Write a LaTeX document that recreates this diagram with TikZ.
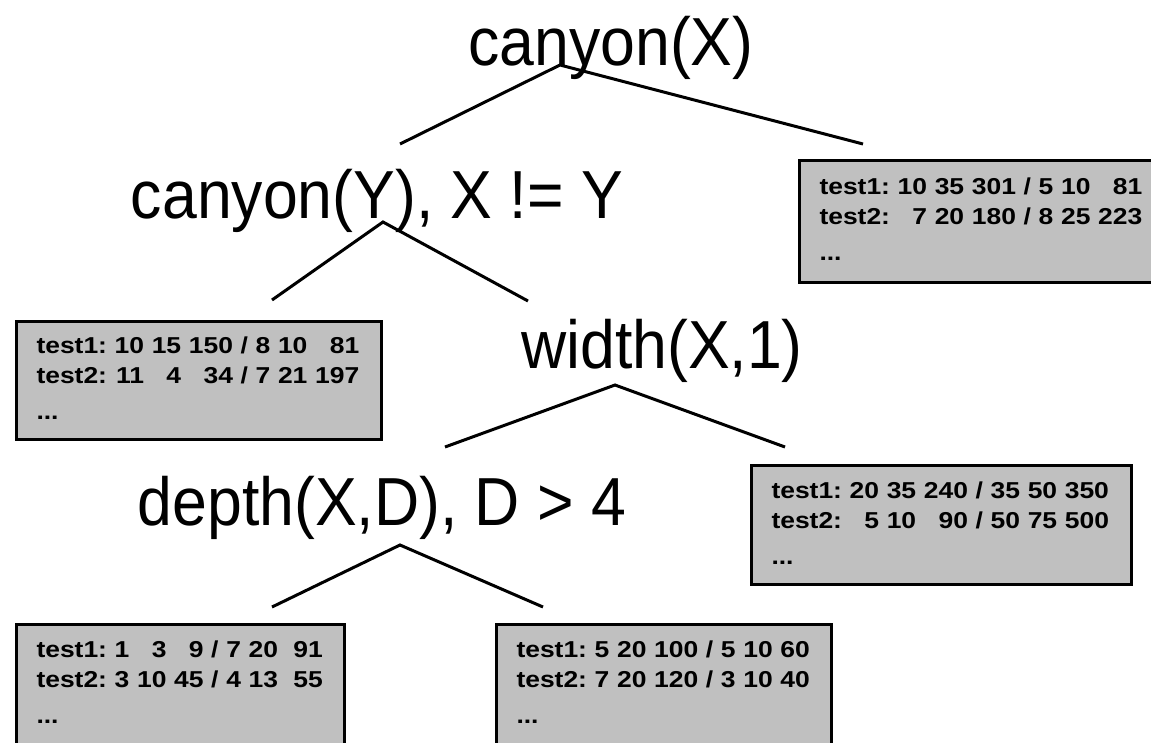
\documentclass[tikz,border=0pt]{standalone}
\usepackage{fontspec}
\setmainfont{Liberation Sans}
\newfontfamily\testfont[FakeStretch=0.92]{Liberation Sans}
\newfontfamily\leaffont[FakeStretch=1.15]{Liberation Sans}
\setlength{\parindent}{0pt}

\definecolor{leafgray}{HTML}{C0C0C0}

\tikzstyle{test}   = [anchor=base,inner sep=0pt,font=\testfont\fontsize{68}{80}\selectfont]
\tikzstyle{leaf}   = [draw=black,line width=3pt,fill=leafgray,anchor=north west,inner xsep=20pt,
                      inner ysep=12pt,align=left,font=\leaffont\bfseries\fontsize{23}{30}\selectfont]
\tikzstyle{branch} = [line width=3pt]

\begin{document}
\begin{tikzpicture}[x=1pt,y=-1pt]
\useasboundingbox (0,0) rectangle (1151,742);
\clip (0,0) rectangle (1151,742);
% Draw the tests of the tree
\node[test] (root) at (611,65)  {canyon(X)};
\node[test] (ny)   at (377,218) {canyon(Y), X != Y};
\node[test] (nw)   at (662,368) {width(X,1)};
\node[test] (nd)   at (382,525) {depth(X,D), D > 4};
% Draw the leaves with their counts
\node[leaf,text width=360pt,minimum height=122pt,inner ysep=0pt] (leafa) at (798,159)
  {\begin{tabular}{@{}l@{\ }r@{\ }r@{\ }r@{\ /\ }r@{\ }r@{\ }r@{}}
   test1: & 10 & 35 & 301 & 5 & 10 & 81\\
   test2: & 7 & 20 & 180 & 8 & 25 & 223\\[6pt]
   ...
   \end{tabular}};
\node[leaf,text width=325pt,minimum height=118pt,inner ysep=0pt] (leafb) at (15,320)
  {\begin{tabular}{@{}l@{\ }r@{\ }r@{\ }r@{\ /\ }r@{\ }r@{\ }r@{}}
   test1: & 10 & 15 & 150 & 8 & 10 & 81\\
   test2: & 11 & 4 & 34 & 7 & 21 & 197\\[6pt]
   ...
   \end{tabular}};
\node[leaf,text width=340pt,minimum height=119pt,inner ysep=0pt] (leafc) at (750,464)
  {\begin{tabular}{@{}l@{\ }r@{\ }r@{\ }r@{\ /\ }r@{\ }r@{\ }r@{}}
   test1: & 20 & 35 & 240 & 35 & 50 & 350\\
   test2: & 5 & 10 & 90 & 50 & 75 & 500\\[6pt]
   ...
   \end{tabular}};
\node[leaf,text width=288pt,text depth=100pt] (leafd) at (15,623)
  {\begin{tabular}{@{}l@{\ }r@{\ }r@{\ }r@{\ /\ }r@{\ }r@{\ \ }r@{}}
   test1: & 1 & 3 & 9 & 7 & 20 & 91\\
   test2: & 3 & 10 & 45 & 4 & 13 & 55\\[6pt]
   ...
   \end{tabular}};
\node[leaf,text width=295pt,text depth=100pt] (leafe) at (495,623)
  {\begin{tabular}{@{}l@{\ }r@{\ }r@{\ }r@{\ /\ }r@{\ }r@{\ }r@{}}
   test1: & 5 & 20 & 100 & 5 & 10 & 60\\
   test2: & 7 & 20 & 120 & 3 & 10 & 40\\[6pt]
   ...
   \end{tabular}};
% Draw the branches
\coordinate (root-fork) at (560,65);
\coordinate (root-yes)  at (400,144);
\coordinate (root-no)   at (863,144);
\coordinate (ny-fork)   at (383,222);
\coordinate (ny-yes)    at (272,300);
\coordinate (ny-no)     at (528,301);
\coordinate (nw-fork)   at (615,385);
\coordinate (nw-yes)    at (445,447);
\coordinate (nw-no)     at (785,447);
\coordinate (nd-fork)   at (400,545);
\coordinate (nd-yes)    at (272,607);
\coordinate (nd-no)     at (543,607);
\foreach \n in {root,ny,nw,nd}
  \draw[branch] (\n-yes) -- (\n-fork) -- (\n-no);
\end{tikzpicture}
\end{document}
